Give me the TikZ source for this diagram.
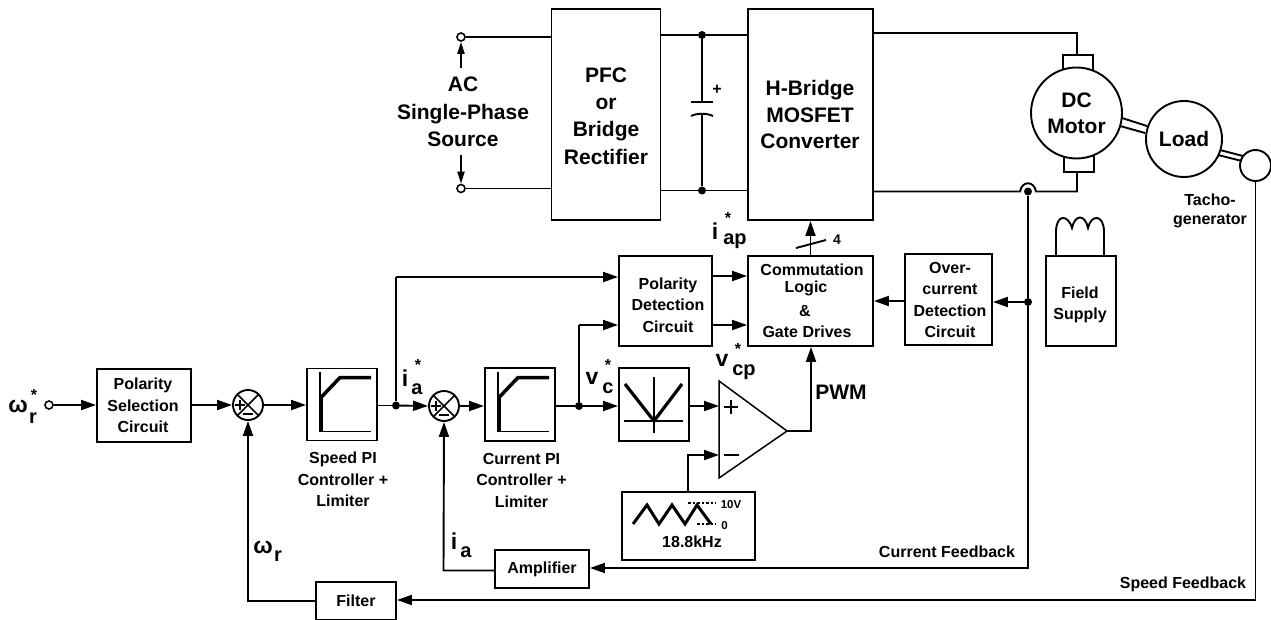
\documentclass[tikz,border=0pt]{standalone}
\usepackage{fontspec}
\setmainfont{Liberation Sans}
\usetikzlibrary{arrows.meta,calc}
\tikzset{
  x=1pt,y=-1pt,
  wire/.style={line width=1.9pt,line join=miter},
  arr/.style={wire,-{Triangle[length=15pt,width=10pt]}},
  box/.style={draw,line width=1.9pt,rectangle,inner sep=0pt,fill=white},
  disc/.style={circle,fill=black,inner sep=0pt,minimum size=8pt},
  term/.style={circle,draw,line width=1.6pt,fill=white,inner sep=0pt,minimum size=8pt},
  round/.style={circle,draw,line width=1.9pt,inner sep=0pt,fill=white},
  txt/.style={font=\fontsize{16}{21.5}\selectfont\bfseries,align=center,inner sep=0pt},
  big/.style={font=\fontsize{21}{27.3}\selectfont\bfseries,align=center,inner sep=0pt},
  sym/.style={font=\fontsize{23}{23}\selectfont\bfseries,inner sep=0pt},
  sub/.style={font=\fontsize{20}{20}\selectfont\bfseries,inner sep=0pt},
  star/.style={font=\fontsize{16}{16}\selectfont\bfseries,inner sep=0pt},
  sumcirc/.style={circle,draw,line width=1.9pt,inner sep=0pt,minimum size=30pt}
}
\newcommand{\limiter}[1]{%
  \draw[line width=1.3pt] ($(#1)+(-22,-33)$) -- ($(#1)+(-22,27)$) -- ($(#1)+(29,27)$);
  \draw[line width=3.5pt,line join=miter] ($(#1)+(-21,27)$) -- ($(#1)+(-21,-7)$) -- ($(#1)+(-2,-27)$) -- ($(#1)+(29,-27)$);
}
\newcommand{\sumsigns}[1]{%
  \draw[line width=1.5pt] ($(#1)+(-10.6,-10.6)$) -- ($(#1)+(10.6,10.6)$);
  \draw[line width=1.5pt] ($(#1)+(-10.6,10.6)$) -- ($(#1)+(10.6,-10.6)$);
  \draw[line width=1.7pt] ($(#1)+(-13,0)$) -- ($(#1)+(-3,0)$);
  \draw[line width=1.7pt] ($(#1)+(-8,-5)$) -- ($(#1)+(-8,5)$);
  \draw[line width=1.9pt] ($(#1)+(-5,9)$) -- ($(#1)+(5,9)$);
}
\begin{document}
\begin{tikzpicture}
\useasboundingbox (0,0) rectangle (1271,620);
\fill[white] (0,0) rectangle (1271,620);

% Power stage
\node[box,minimum width=109pt,minimum height=211pt] (pfc) at (606,114.5) {};
\node[big] (pfcT) at (606,116) {PFC\\or\\Bridge\\Rectifier};
\node[box,minimum width=125pt,minimum height=211pt] (hb) at (810.5,114.5) {};
\node[big,font=\fontsize{21}{26.5}\selectfont\bfseries] (hbT) at (810,114.5) {H-Bridge\\MOSFET\\Converter};
\node[term] (t1) at (461,37) {};
\node[term] (t2) at (461,188.5) {};
\node[big] (acT) at (463,112) {AC\\Single-Phase\\Source};
\coordinate (a1) at (461,68);
\coordinate (a2) at (461,155);
\draw[wire,-{Triangle[length=12pt,width=7pt]}] (a1) -- (t1.south);
\draw[wire,-{Triangle[length=12pt,width=7pt]}] (a2) -- (t2.north);
\draw[wire] (t1.east) -- (t1.east -| pfc.west);
\draw[wire] (t2.east) -- (t2.east -| pfc.west);

\node[disc] (d1) at (702,35) {};
\node[disc] (d2) at (702,190.5) {};
\draw[wire] (d1 -| pfc.east) -- (d1) -- (d1 -| hb.west);
\draw[wire] (d2 -| pfc.east) -- (d2) -- (d2 -| hb.west);
\coordinate (c1) at (702,102);
\coordinate (c2) at (702,114);
\draw[wire] (d1) -- (c1);
\draw[wire] (c2) -- (d2);
\draw[wire] ($(c1)+(-11,0)$) -- ($(c1)+(11,0)$);
\draw[wire] ($(c2)+(-11,2)$) .. controls ($(c2)+(-5,-1)$) and ($(c2)+(5,-1)$) .. ($(c2)+(11,2)$);
\node[font=\fontsize{16}{16}\selectfont\bfseries,inner sep=0pt] (plus) at (717,90) {+};

% Motor, load, tacho
\node[box,minimum width=30pt,minimum height=15pt] (bt) at (1078,62.5) {};
\node[box,minimum width=30pt,minimum height=16pt] (bb) at (1079,164) {};
\node[round,minimum size=91pt,align=center,font=\fontsize{21}{26}\selectfont\bfseries] (mot) at (1076.5,113) {DC\\Motor};
\node[round,minimum size=76pt,font=\fontsize{21}{26}\selectfont\bfseries] (load) at (1184,139) {Load};
\node[round,minimum size=31pt] (tach) at (1255.5,165.5) {};
\draw[wire] (hb.east |- 0,33) -- (1077,33) -- (bt.north -| 1077,0);
\coordinate (j1) at (1028,191.5);
\draw[wire] (hb.east |- j1) -- ($(j1)+(-8,0)$) .. controls ($(j1)+(-6,-11)$) and ($(j1)+(6,-11)$) .. ($(j1)+(8,0)$) -- (1077,191.5) -- (1077,172);
\node[disc] (d3) at (j1) {};
\draw[wire] (1122,118) -- (1147,126);
\draw[wire] (1120,126) -- (1145,133);
\draw[wire] (1220,150) -- (1243,156);
\draw[wire] (1218,155) -- (1242,161);
\node[font=\fontsize{16}{18.5}\selectfont\bfseries,align=center,inner sep=0pt] (tachT) at (1210,211) {Tacho-\\generator};

% Field supply
\node[box,minimum width=70pt,minimum height=90pt] (fs) at (1081,301) {};
\node[txt] (fsT) at (1080,305) {Field\\Supply};
\draw[wire] (1056,256) -- (1056,232) .. controls (1056,214) and (1068,214) .. (1072,228)
  .. controls (1075,214) and (1085,214) .. (1088,228)
  .. controls (1091,214) and (1104,214) .. (1104,232) -- (1104,256);

% Logic blocks
\node[box,minimum width=125pt,minimum height=90pt] (com) at (810.5,301) {};
\node[font=\fontsize{16}{21.5}\selectfont\bfseries,inner sep=0pt] (comA) at (812,270) {Commutation};
\node[txt] (comB) at (806,288) {Logic};
\node[txt] (comC) at (805,311) {\&};
\node[txt] (comD) at (807,332) {Gate Drives};
\node[box,minimum width=87pt,minimum height=91pt] (oc) at (948.5,299.5) {};
\node[txt] (ocT) at (950,300) {Over-\\current\\Detection\\Circuit};
\node[box,minimum width=93pt,minimum height=90pt] (pol) at (665.5,301) {};
\node[txt] (polT) at (668,305) {Polarity\\Detection\\Circuit};
\node[disc] (d4) at (1028,302) {};
\draw[arr] (d4) -- (oc.east |- d4);
\draw[arr] (oc.west |- 0,301) -- (com.east |- 0,301);
\draw[arr] (pol.east |- 0,276) -- (com.west |- 0,276);
\draw[arr] (pol.east |- 0,325) -- (com.west |- 0,325);
\draw[arr] (com.north) -- (hb.south);
\draw[wire] (796,248) -- (826,240);
\node[font=\fontsize{14}{14}\selectfont\bfseries,inner sep=0pt] (four) at (837,240) {4};
\node[sym] (iap) at (715,231) {i};
\node[sub] (iapS) at (735,241) {ap};
\node[star] (iapX) at (728,218) {*};

% Forward path
\node[font=\fontsize{23}{23}\selectfont\bfseries,inner sep=0pt] (wr) at (18,406) {ω};
\node[sub] (wrS) at (33,418) {r};
\node[star] (wrX) at (34,395) {*};
\node[term] (t3) at (49,405) {};
\node[box,minimum width=94pt,minimum height=73pt] (sel) at (144,405.5) {};
\node[txt] (selT) at (143,405.5) {Polarity\\Selection\\Circuit};
\draw[arr] (t3.east) -- (sel.west |- t3);
\node[sumcirc] (s1) at (248,405) {};
\sumsigns{s1}
\draw[arr] (sel.east |- s1) -- (s1.west);
\node[box,minimum width=70pt,minimum height=72pt] (spi) at (342,404.5) {};
\limiter{spi}
\node[txt] (spiT) at (343,479.5) {Speed PI\\Controller +\\Limiter};
\draw[arr] (s1.east) -- (spi.west |- s1);
\node[sumcirc] (s2) at (444,406) {};
\sumsigns{s2}
\node[disc] (d5) at (396,405.5) {};
\draw[wire] (spi.east |- d5) -- (d5);
\draw[arr] (d5) -- (s2.west);
\draw[wire] (d5) -- (d5 |- 0,277);
\draw[arr] (d5 |- 0,277) -- (pol.west |- 0,277);
\node[sym] (ia) at (405,378) {i};
\node[sub] (iaS) at (417,389) {a};
\node[star] (iaX) at (418,365) {*};
\node[box,minimum width=70pt,minimum height=73pt] (cpi) at (520,404.5) {};
\limiter{cpi}
\node[txt] (cpiT) at (521.5,480) {Current PI\\Controller +\\Limiter};
\draw[arr] (s2.east) -- (cpi.west |- s2);
\node[box,minimum width=70pt,minimum height=73pt] (abs) at (654,404.5) {};
\draw[line width=1.3pt] (654,377) -- (654,433);
\draw[line width=1.3pt] (624,421) -- (683,421);
\draw[line width=3.2pt] (625,384) -- (654,421) -- (682,384);
\node[disc] (d6) at (579,406) {};
\draw[wire] (cpi.east |- d6) -- (d6);
\draw[arr] (d6) -- (abs.west |- d6);
\draw[wire] (d6) -- (d6 |- 0,325);
\draw[arr] (d6 |- 0,325) -- (pol.west |- 0,325);
\node[sym] (vc) at (592,378) {v};
\node[sub] (vcS) at (608,388) {c};
\node[star] (vcX) at (608,365) {*};

% Comparator
\coordinate (tA) at (719,381);
\coordinate (tB) at (787,431);
\coordinate (tC) at (719,478);
\draw[line width=1.5pt,line join=miter,fill=white] (tA) -- (tB) -- (tC) -- cycle;
\draw[line width=1.5pt] (724,407) -- (738,407);
\draw[line width=1.5pt] (731,400) -- (731,414);
\draw[line width=1.5pt] (724,455) -- (739,455);
\draw[arr] (abs.east |- 0,406) -- (tA |- 0,406);
\node[sym] (vcp) at (722,360) {v};
\node[sub] (vcpS) at (744,372) {cp};
\node[star] (vcpX) at (738,349) {*};
\coordinate (o1) at (811,431);
\draw[arr] (tB) -- (o1) -- (o1 |- com.south);
\node[font=\fontsize{21}{21}\selectfont\bfseries,inner sep=0pt] (pwm) at (841,392) {PWM};

% Triangle generator
\node[box,minimum width=133pt,minimum height=68pt] (tri) at (688.5,526) {};
\draw[line width=3pt,line join=miter] (633,524) -- (647,505) -- (659,524) -- (672,505) -- (685,524) -- (697,505) -- (711,524);
\draw[line width=1.5pt,dash pattern=on 2.5pt off 2pt] (688,503) -- (716,503);
\draw[line width=1.5pt,dash pattern=on 2.5pt off 2pt] (697,524) -- (716,524);
\node[font=\fontsize{11.5}{12}\selectfont\bfseries,inner sep=0pt] (tenV) at (731,505) {10V};
\node[font=\fontsize{11.5}{12}\selectfont\bfseries,inner sep=0pt] (zero) at (724.5,526) {0};
\node[txt] (freq) at (692,542) {18.8kHz};
\draw[arr] (688,0 |- tri.north) -- (688,455) -- (tC |- 0,455);

% Feedback
\node[box,minimum width=94pt,minimum height=38pt,font=\fontsize{16}{16}\selectfont\bfseries] (amp) at (542,569) {Amplifier};
\node[box,minimum width=80pt,minimum height=38pt,font=\fontsize{16}{16}\selectfont\bfseries] (fil) at (356,601) {Filter};
\draw[wire] (d3) -- (d4);
\draw[arr] (d4) -- (1028,568) -- (amp.east |- 0,568);
\draw[arr] (amp.west |- 0,570.5) -- (443.5,570.5) -- (s2.south);
\draw[arr] (fil.west) -- (248,601) -- (s1.south);
\draw[arr] (tach.south) -- (1255.5,600) -- (fil.east |- 0,600);
\node[sym] (wf) at (263,547) {ω};
\node[sub] (wfS) at (278,556) {r};
\node[sym] (iaf) at (454,541) {i};
\node[sub] (iafS) at (466,552) {a};
\node[txt] (cfT) at (947,552) {Current Feedback};
\node[txt] (sfT) at (1183,584) {Speed Feedback};
\end{tikzpicture}
\end{document}
